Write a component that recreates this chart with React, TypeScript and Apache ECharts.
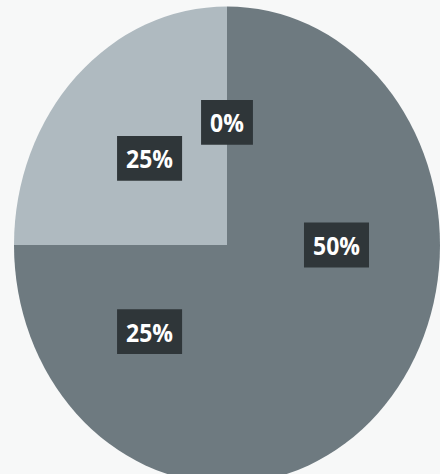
import React, { useEffect, useRef } from "react";
import * as echarts from "echarts";

const categories = ["A", "B", "C", "D"];
const values = [0, 50, 25, 25];
const colors = ["#6e7a80", "#6e7a80", "#6e7a80", "#afbac0"];

export default function App() {
  const ref = useRef<HTMLDivElement>(null);
  useEffect(() => {
    if (!ref.current) return;
    const chart = echarts.init(ref.current, undefined, { renderer: "svg" });
    chart.setOption({
      animation: false,
      backgroundColor: "#f7f8f8",
      series: [
        {
          type: "pie",
          center: [227, 245],
          radius: [0, 213],
          startAngle: 90,
          clockwise: true,
          silent: true,
          data: categories.map((c, i) => ({
            name: c,
            value: values[i],
            itemStyle: { color: colors[i] },
          })),
          itemStyle: { borderWidth: 0 },
          label: {
            show: true,
            position: "inside",
            formatter: "{c}%",
            color: "#ffffff",
            fontFamily: "Open Sans",
            fontWeight: "bold",
            fontSize: 23,
            lineHeight: 24,
            backgroundColor: "#2f3639",
            padding: [8, 9],
          },
          labelLine: { show: false },
        },
      ],
    });
    return () => chart.dispose();
  }, []);
  return (
    <div
      style={{
        position: "fixed",
        left: 0,
        top: 0,
        width: 440,
        height: 474,
        overflow: "hidden",
        background: "#f7f8f8",
      }}
    >
      <div
        ref={ref}
        style={{
          width: 440,
          height: 474,
          transform: "scaleY(1.12)",
          transformOrigin: "227px 245px",
        }}
      />
    </div>
  );
}
